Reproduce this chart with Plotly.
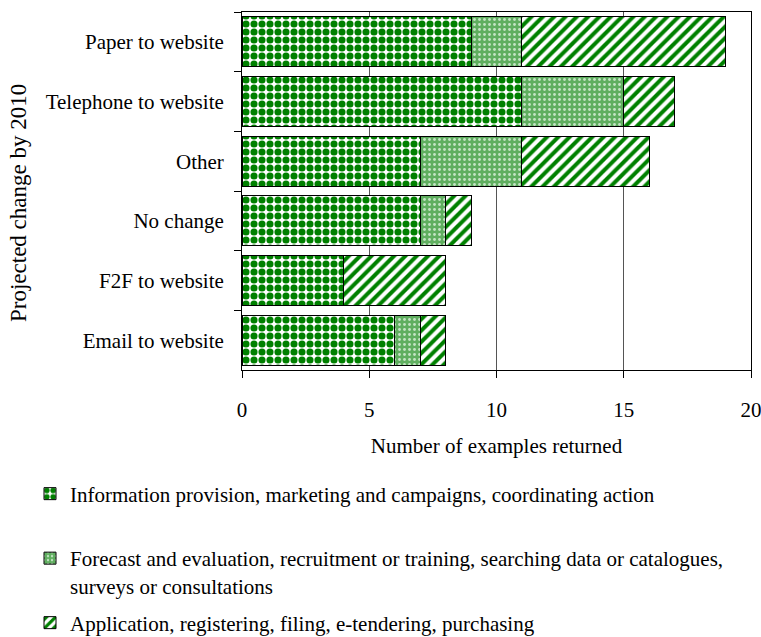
import plotly.graph_objects as go

categories = ["Paper to website", "Telephone to website", "Other", "No change",
              "F2F to website", "Email to website"]
info_vals = [9, 11, 7, 7, 4, 6]
forecast_vals = [2, 4, 4, 1, 0, 1]
application_vals = [8, 2, 5, 1, 4, 1]
series_names = [
    "Information provision, marketing and campaigns, coordinating action",
    "Forecast and evaluation, recruitment or training, searching data or catalogues,<br>surveys or consultations",
    "Application, registering, filing, e-tendering, purchasing",
]
x_ticks = [0, 5, 10, 15, 20]

FONT = "Liberation Serif, Times New Roman, serif"
FS = 21
GREEN = "#008000"

fig = go.Figure()
fig.add_trace(go.Bar(
    y=categories, x=info_vals, orientation="h", name=series_names[0],
    marker=dict(color="white", line=dict(color="black", width=1),
                pattern=dict(shape=".", fgcolor=GREEN, bgcolor="white",
                             size=8, solidity=0.62, fgopacity=1)),
    legend="legend",
))
fig.add_trace(go.Bar(
    y=categories, x=forecast_vals, orientation="h", name=series_names[1],
    marker=dict(color="#5fae5f", line=dict(color="black", width=1),
                pattern=dict(shape=".", fgcolor="#c4e4c4", bgcolor="#5fae5f",
                             size=5, solidity=0.25, fgopacity=1)),
    legend="legend2",
))
fig.add_trace(go.Bar(
    y=categories, x=application_vals, orientation="h", name=series_names[2],
    marker=dict(color="white", line=dict(color="black", width=1),
                pattern=dict(shape="/", fgcolor=GREEN, bgcolor="white",
                             size=8, solidity=0.5, fgopacity=1)),
    legend="legend3",
))

W, H = 761, 637
L, R, T, B = 242, 10, 12, 267
plot_w = W - L - R
plot_h = H - T - B

legend_common = dict(
    xref="container", yref="container", xanchor="left", yanchor="middle",
    font=dict(family=FONT, size=FS, color="black"), bgcolor="rgba(0,0,0,0)",
    valign="top", itemwidth=30, tracegroupgap=0,
)

fig.update_layout(
    width=W, height=H,
    barmode="stack", bargap=0.16,
    paper_bgcolor="white", plot_bgcolor="white",
    margin=dict(l=L, r=R, t=T, b=B, autoexpand=False),
    font=dict(family=FONT, size=FS, color="black"),
    showlegend=True,
    legend=dict(x=30 / W, y=1 - 494 / H, **legend_common),
    legend2=dict(x=30 / W, y=1 - 572 / H, **legend_common),
    legend3=dict(x=30 / W, y=1 - 623 / H, **legend_common),
    xaxis=dict(
        range=[0, 20], tickvals=x_ticks, ticktext=[str(v) for v in x_ticks],
        showgrid=True, gridcolor="#555555", gridwidth=1,
        showline=True, linecolor="black", linewidth=1, mirror=True,
        ticks="outside", ticklen=7, tickcolor="black",
        ticklabelstandoff=14, ticklabeloverflow="allow", zeroline=False,
        title=dict(text="Number of examples returned", standoff=17,
                   font=dict(family=FONT, size=FS)),
        automargin=False,
    ),
    yaxis=dict(
        categoryorder="array", categoryarray=categories, autorange="reversed",
        showline=True, linecolor="black", linewidth=1, mirror=True,
        ticks="outside", ticklen=7, tickcolor="black", tickson="boundaries",
        showgrid=False, ticklabelstandoff=13,
        automargin=False,
    ),
    annotations=[dict(
        text="Projected change by 2010", textangle=-90,
        xref="paper", yref="paper",
        x=(18 - L) / plot_w, y=(H - B - 203) / plot_h,
        xanchor="center", yanchor="middle", showarrow=False,
        font=dict(family=FONT, size=23, color="black"),
    )],
)

fig.write_html(
    "out.html", config={"displayModeBar": False},
    post_script=("document.body.style.margin='0';"
                 "document.body.style.overflow='hidden';"
                 "document.documentElement.style.overflow='hidden';"),
)
